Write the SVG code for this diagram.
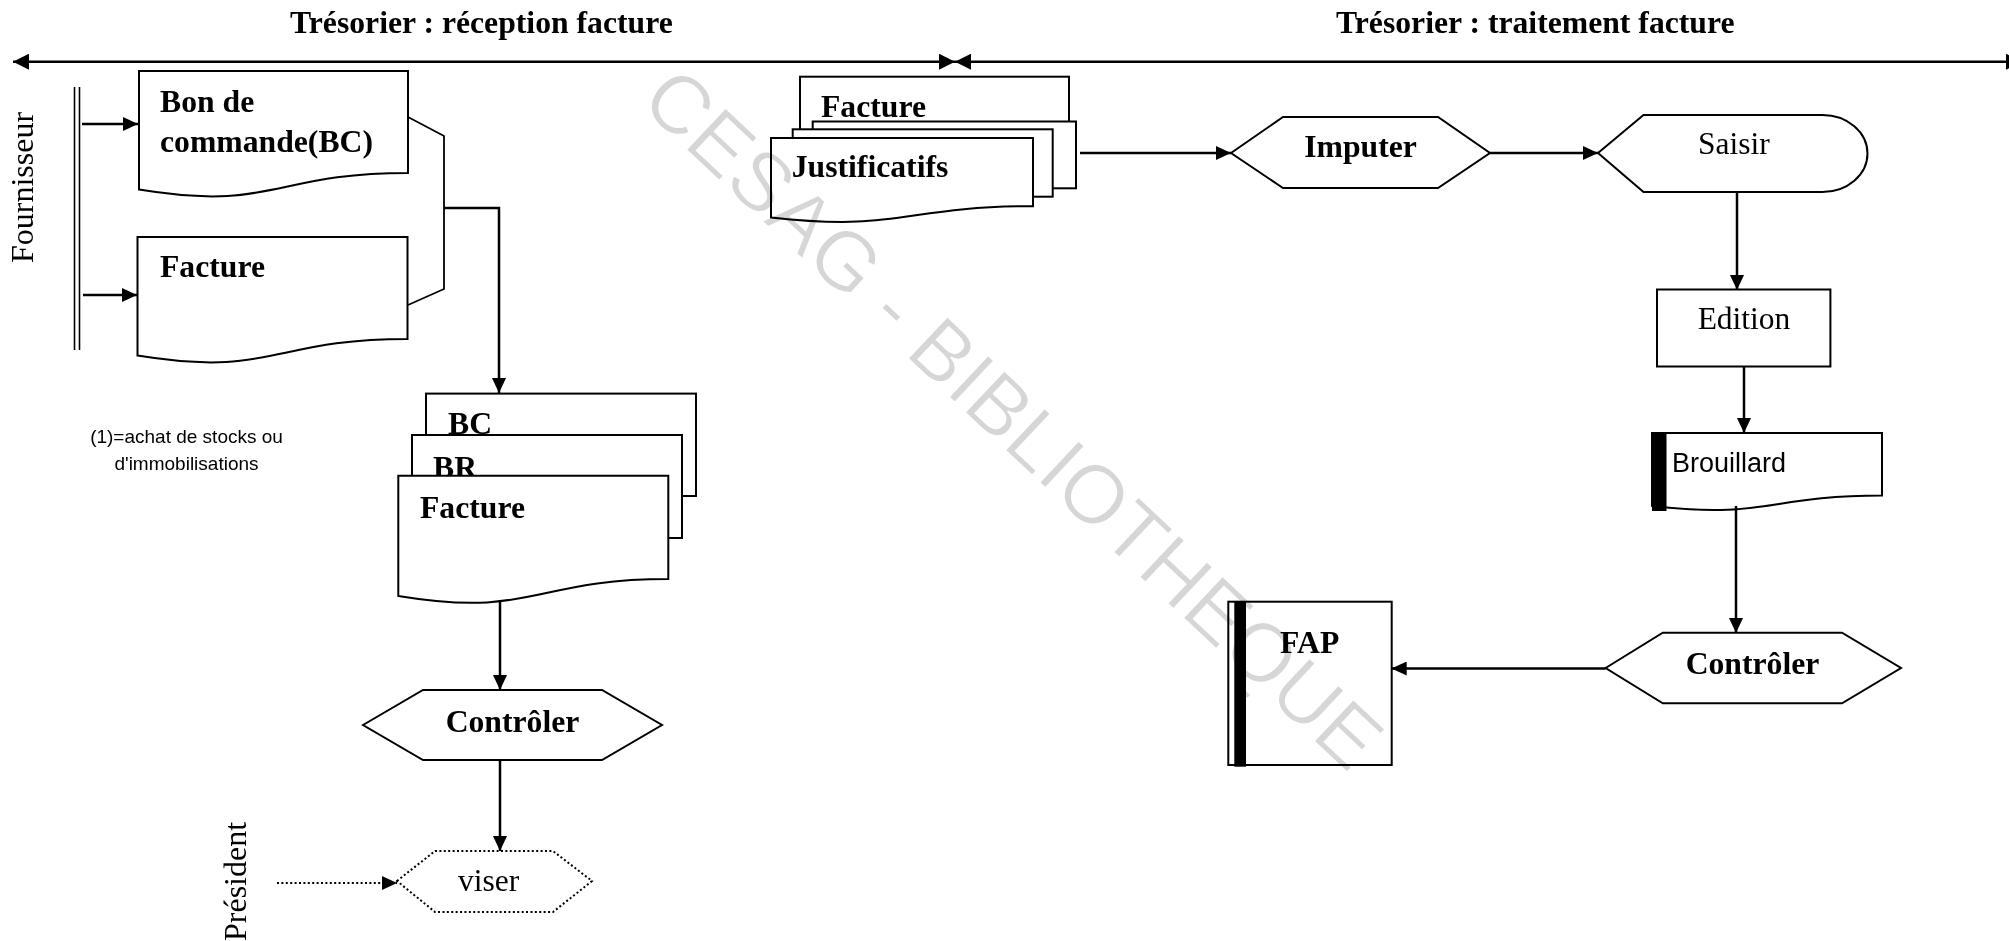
<svg xmlns="http://www.w3.org/2000/svg" width="2009" height="941" viewBox="0 0 2009 941">
  <style>
    .shape { fill: #ffffff; stroke: #000000; stroke-width: 2; }
    .thin { fill: none; stroke: #000000; stroke-width: 1.8; }
    .conn { fill: none; stroke: #000000; stroke-width: 2.5; }
    .dots { fill: none; stroke: #000000; stroke-width: 2; stroke-dasharray: 2 2.4; }
    .bold { font-family: "Liberation Serif", "Times New Roman", serif; font-weight: bold; font-size: 31.7px; fill: #000000; }
    .reg { font-family: "Liberation Serif", "Times New Roman", serif; font-size: 31.5px; fill: #000000; }
    .lane { font-family: "Liberation Serif", "Times New Roman", serif; font-size: 32px; fill: #000000; }
    .sans { font-family: "Liberation Sans", Arial, sans-serif; fill: #000000; }
    .mark { font-family: "Liberation Sans", Arial, sans-serif; font-size: 83px; fill: #d6d6d6; stroke: #ffffff; stroke-width: 1.2; }
  </style>
  <defs>
    <marker id="big" viewBox="0 0 16 16" markerWidth="16" markerHeight="16" refX="16" refY="8" orient="auto-start-reverse" markerUnits="userSpaceOnUse">
      <path d="M0,0 L16,8 L0,16 Z" fill="#000000"/>
    </marker>
    <marker id="arr" viewBox="0 0 15 14" markerWidth="15" markerHeight="14" refX="15" refY="7" orient="auto" markerUnits="userSpaceOnUse">
      <path d="M0,0 L15,7 L0,14 Z" fill="#000000"/>
    </marker>
  </defs>

  <rect x="0" y="0" width="2009" height="941" fill="#ffffff"/>

  <!-- phase headings -->
  <g id="phase-reception">
    <text class="bold" x="290" y="33">Trésorier : réception facture</text>
  </g>
  <g id="phase-traitement">
    <text class="bold" x="1336" y="33">Trésorier : traitement facture</text>
  </g>

  <!-- actors -->
  <g id="actor-fournisseur">
    <text class="lane" transform="translate(33,263) rotate(-90)">Fournisseur</text>
    <line x1="74.5" y1="87" x2="74.5" y2="350" stroke="#000" stroke-width="1.6"/>
    <line x1="79.5" y1="87" x2="79.5" y2="350" stroke="#000" stroke-width="1.6"/>
  </g>
  <g id="actor-president">
    <text class="lane" transform="translate(246,941) rotate(-90)">Président</text>
  </g>

  <g id="note">
    <text class="sans" font-size="19" text-anchor="middle" x="186.5" y="443">(1)=achat de stocks ou</text>
    <text class="sans" font-size="19" text-anchor="middle" x="186.5" y="470">d'immobilisations</text>
  </g>

  <!-- documents received -->
  <g id="doc-bc">
    <path class="shape" d="M139,71 H408 V172.9 C273.5,172.9 273.5,211.7 139,189.6 Z"/>
    <text class="bold" x="160" y="112">Bon de</text>
    <text class="bold" x="160" y="152">commande(BC)</text>
  </g>
  <g id="doc-facture">
    <path class="shape" d="M137.5,237 H407.5 V338.9 C272.5,338.9 272.5,377.7 137.5,355.6 Z"/>
    <text class="bold" x="160" y="277">Facture</text>
  </g>

  <g id="stack-bc-br-facture">
    <rect class="shape" x="426" y="393.6" width="270" height="102.4"/>
    <text class="bold" x="448" y="434">BC</text>
    <rect class="shape" x="412" y="435" width="270" height="103"/>
    <text class="bold" x="433" y="478">BR</text>
    <path class="shape" d="M398.3,475.7 H668.3 V579 C533.3,579 533.3,618.3 398.3,596 Z"/>
    <text class="bold" x="420" y="517.5">Facture</text>
  </g>

  <g id="controler-1">
    <polygon class="shape" points="363,725 423,690 602,690 662,725 602,760 423,760"/>
    <text class="bold" text-anchor="middle" x="512.5" y="732">Contrôler</text>
  </g>

  <g id="viser">
    <polygon class="dots" points="397,881 435,851 553,851 592,881 553,912 435,912"/>
    <text class="reg" x="458" y="891">viser</text>
  </g>

  <g id="stack-facture-justificatifs">
    <rect class="shape" x="800" y="76.7" width="269" height="90"/>
    <text class="bold" x="821" y="117.3">Facture</text>
    <rect class="shape" x="812.7" y="121.5" width="263.3" height="66.8"/>
    <rect class="shape" x="792.7" y="129.3" width="260" height="67.4"/>
    <path class="shape" d="M771,138 H1033 V206.2 C902,206.2 902,232.1 771,217.4 Z"/>
    <text class="bold" x="791.7" y="177.3">Justificatifs</text>
  </g>

  <g id="imputer">
    <polygon class="shape" points="1231,153 1283,117 1438,117 1490,153 1438,188 1283,188"/>
    <text class="bold" text-anchor="middle" x="1360.5" y="157">Imputer</text>
  </g>

  <g id="saisir">
    <path class="shape" d="M1598,153 L1643.5,115 H1822.5 A45,38.5 0 0 1 1822.5,192 H1643.5 Z"/>
    <text class="reg" x="1698" y="154">Saisir</text>
  </g>

  <g id="edition">
    <rect class="shape" x="1657" y="289.5" width="173.4" height="77"/>
    <text class="reg" text-anchor="middle" x="1744" y="329">Edition</text>
  </g>

  <g id="brouillard">
    <path class="shape" d="M1652,433 H1882 V495.6 C1767,495.6 1767,519.4 1652,505.9 Z"/>
    <rect x="1652" y="433" width="14.5" height="78" fill="#000000"/>
    <text class="sans" font-size="27" x="1672" y="472">Brouillard</text>
  </g>

  <g id="controler-2">
    <polygon class="shape" points="1605.6,668 1662.8,632.7 1842,632.7 1901,668 1842,703.3 1662.8,703.3"/>
    <text class="bold" text-anchor="middle" x="1752.5" y="674">Contrôler</text>
  </g>

  <g id="fap">
    <rect class="shape" x="1228.3" y="601.7" width="163.4" height="163.3"/>
    <rect x="1234.3" y="601.7" width="11.7" height="165" fill="#000000"/>
    <text class="bold" x="1280" y="652.7">FAP</text>
  </g>

  <!-- connectors -->
  <g id="connectors">
    <line class="conn" x1="13" y1="61.7" x2="955" y2="61.7" marker-start="url(#big)" marker-end="url(#big)"/>
    <line class="conn" x1="955" y1="61.7" x2="2022" y2="61.7" marker-start="url(#big)" marker-end="url(#big)"/>

    <line class="conn" x1="82" y1="124" x2="138" y2="124" marker-end="url(#arr)"/>
    <line class="conn" x1="83" y1="295" x2="137" y2="295" marker-end="url(#arr)"/>

    <polyline class="thin" points="408,117 444,136 444,289 408,305"/>
    <polyline class="conn" points="444,208 499,208 499,393" marker-end="url(#arr)"/>

    <line class="conn" x1="500" y1="600" x2="500" y2="690" marker-end="url(#arr)"/>
    <line class="conn" x1="500" y1="760" x2="500" y2="851" marker-end="url(#arr)"/>
    <line class="dots" x1="277" y1="883" x2="397" y2="883" marker-end="url(#arr)"/>

    <line class="conn" x1="1080" y1="153" x2="1231" y2="153" marker-end="url(#arr)"/>
    <line class="conn" x1="1490" y1="153" x2="1598" y2="153" marker-end="url(#arr)"/>
    <line class="conn" x1="1737" y1="192" x2="1737" y2="290" marker-end="url(#arr)"/>
    <line class="conn" x1="1744" y1="367" x2="1744" y2="433" marker-end="url(#arr)"/>
    <line class="conn" x1="1736" y1="506" x2="1736" y2="633" marker-end="url(#arr)"/>
    <line class="conn" x1="1605.6" y1="668.5" x2="1391.7" y2="668.5" marker-end="url(#arr)"/>
  </g>

  <!-- library stamp across the sheet -->
  <g id="stamp" style="mix-blend-mode: multiply">
    <text class="mark" transform="translate(638,104) rotate(43.3)">CESAG - BIBLIOTHEQUE</text>
  </g>
</svg>
